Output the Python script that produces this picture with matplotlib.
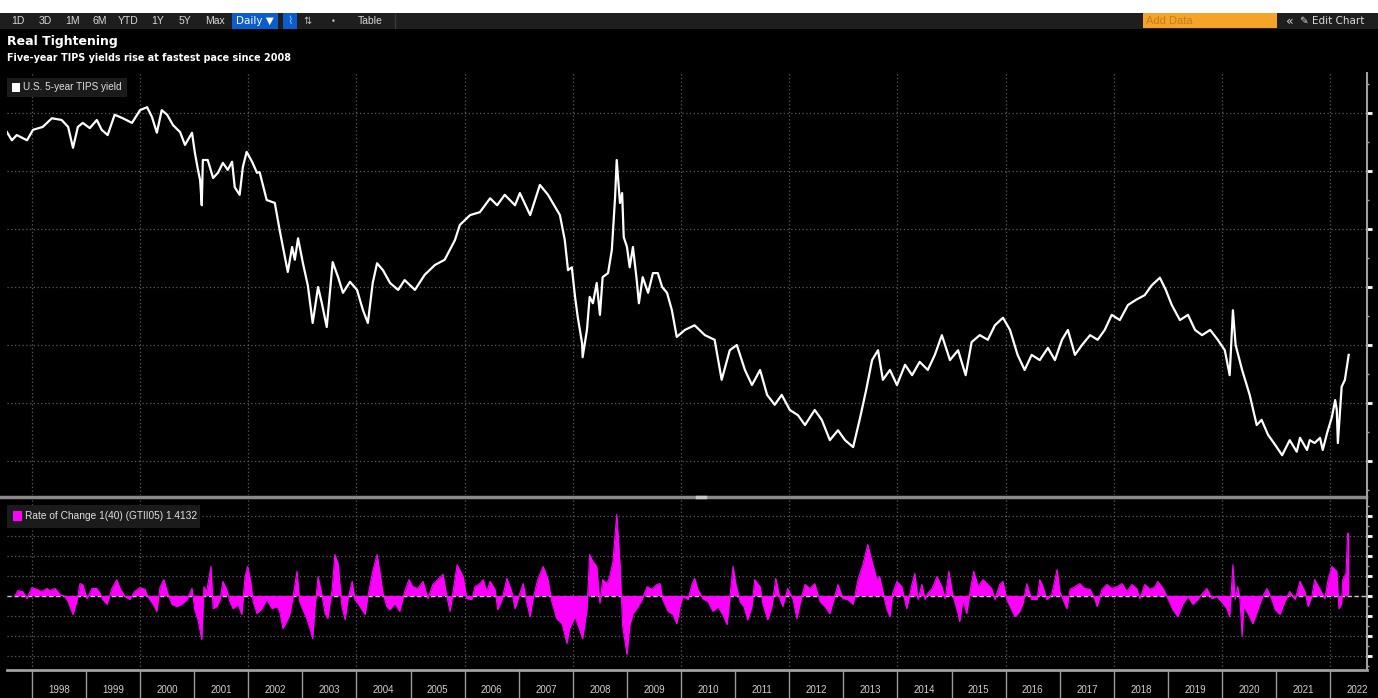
import matplotlib
matplotlib.use("Agg")
import matplotlib.pyplot as plt
from matplotlib.patches import Rectangle
from matplotlib.lines import Line2D
from matplotlib.ticker import MultipleLocator
import numpy as np

W, H = 1378, 698
NARROW = ['Liberation Sans', 'DejaVu Sans']

# U.S. 5-year TIPS yield (%)
tips_years = [1997.54, 1997.63, 1997.72, 1997.91, 1998.02, 1998.20, 1998.37, 1998.55, 1998.67, 1998.76,
              1998.85, 1998.94, 1999.07, 1999.20, 1999.29, 1999.40, 1999.53, 1999.68, 1999.85, 2000.00,
              2000.13, 2000.22, 2000.31, 2000.40, 2000.50, 2000.61, 2000.74, 2000.83, 2000.96, 2001.01,
              2001.07, 2001.11, 2001.14, 2001.16, 2001.25, 2001.35, 2001.44, 2001.53, 2001.62, 2001.70,
              2001.75, 2001.84, 2001.90, 2001.97, 2002.07, 2002.16, 2002.21, 2002.34, 2002.49, 2002.58,
              2002.64, 2002.73, 2002.81, 2002.86, 2002.92, 2003.01, 2003.10, 2003.19, 2003.29, 2003.36,
              2003.45, 2003.56, 2003.66, 2003.75, 2003.88, 2004.01, 2004.12, 2004.21, 2004.30, 2004.38,
              2004.49, 2004.62, 2004.77, 2004.89, 2005.08, 2005.26, 2005.45, 2005.63, 2005.82, 2005.91,
              2006.10, 2006.28, 2006.47, 2006.60, 2006.74, 2006.93, 2007.02, 2007.21, 2007.39, 2007.54,
              2007.76, 2007.85, 2007.91, 2007.98, 2008.04, 2008.09, 2008.17, 2008.18, 2008.26, 2008.31,
              2008.37, 2008.44, 2008.50, 2008.55, 2008.65, 2008.72, 2008.78, 2008.81, 2008.87, 2008.91,
              2008.94, 2009.00, 2009.05, 2009.11, 2009.18, 2009.22, 2009.29, 2009.39, 2009.48, 2009.57,
              2009.65, 2009.74, 2009.83, 2009.92, 2010.07, 2010.25, 2010.44, 2010.62, 2010.75, 2010.90,
              2011.03, 2011.18, 2011.31, 2011.46, 2011.59, 2011.73, 2011.86, 2012.01, 2012.16, 2012.29,
              2012.47, 2012.60, 2012.75, 2012.90, 2013.03, 2013.18, 2013.30, 2013.42, 2013.53, 2013.64,
              2013.73, 2013.86, 2013.99, 2014.14, 2014.27, 2014.41, 2014.56, 2014.69, 2014.82, 2014.97,
              2015.12, 2015.26, 2015.37, 2015.52, 2015.67, 2015.80, 2015.95, 2016.08, 2016.22, 2016.35,
              2016.48, 2016.63, 2016.78, 2016.91, 2017.04, 2017.15, 2017.28, 2017.41, 2017.56, 2017.70,
              2017.83, 2017.96, 2018.11, 2018.26, 2018.41, 2018.57, 2018.70, 2018.85, 2018.96, 2019.07,
              2019.22, 2019.37, 2019.50, 2019.63, 2019.78, 2019.92, 2020.05, 2020.14, 2020.20, 2020.25,
              2020.37, 2020.51, 2020.64, 2020.73, 2020.85, 2020.98, 2021.11, 2021.25, 2021.38, 2021.44,
              2021.57, 2021.62, 2021.71, 2021.81, 2021.86, 2021.94, 2022.03, 2022.09, 2022.12, 2022.14,
              2022.21, 2022.27, 2022.34]
tips_vals = [3.67, 3.53, 3.62, 3.53, 3.71, 3.76, 3.91, 3.88, 3.76, 3.40,
             3.76, 3.83, 3.74, 3.88, 3.71, 3.62, 3.97, 3.91, 3.83, 4.05,
             4.10, 3.93, 3.66, 4.05, 3.97, 3.79, 3.67, 3.45, 3.66, 3.33,
             3.02, 2.84, 2.41, 3.19, 3.19, 2.88, 2.97, 3.14, 3.02, 3.16,
             2.72, 2.59, 3.07, 3.33, 3.16, 2.97, 2.98, 2.50, 2.45, 1.98,
             1.69, 1.26, 1.69, 1.47, 1.84, 1.41, 1.03, 0.38, 1.00, 0.72,
             0.31, 1.43, 1.17, 0.90, 1.09, 0.95, 0.60, 0.38, 1.07, 1.41,
             1.29, 1.07, 0.95, 1.12, 0.95, 1.21, 1.38, 1.47, 1.81, 2.07,
             2.24, 2.29, 2.53, 2.41, 2.59, 2.41, 2.62, 2.24, 2.76, 2.59,
             2.24, 1.81, 1.29, 1.34, 0.83, 0.48, 0.03, -0.21, 0.26, 0.83,
             0.72, 1.07, 0.52, 1.17, 1.24, 1.64, 2.55, 3.19, 2.45, 2.62,
             1.86, 1.69, 1.34, 1.69, 1.12, 0.72, 1.17, 0.90, 1.24, 1.24,
             1.00, 0.90, 0.60, 0.14, 0.26, 0.34, 0.17, 0.09, -0.60, -0.09,
             0.00, -0.43, -0.69, -0.43, -0.86, -1.03, -0.86, -1.12, -1.21, -1.38,
             -1.12, -1.29, -1.64, -1.47, -1.64, -1.76, -1.29, -0.78, -0.26, -0.09,
             -0.60, -0.43, -0.69, -0.34, -0.52, -0.29, -0.43, -0.17, 0.17, -0.26,
             -0.09, -0.52, 0.05, 0.17, 0.09, 0.34, 0.47, 0.26, -0.17, -0.43,
             -0.17, -0.26, -0.05, -0.26, 0.09, 0.26, -0.17, 0.00, 0.17, 0.09,
             0.26, 0.52, 0.43, 0.69, 0.78, 0.86, 1.03, 1.16, 0.95, 0.69,
             0.43, 0.52, 0.26, 0.17, 0.26, 0.09, -0.09, -0.52, 0.60, 0.00,
             -0.43, -0.86, -1.38, -1.29, -1.55, -1.72, -1.90, -1.64, -1.84, -1.60,
             -1.81, -1.64, -1.69, -1.60, -1.81, -1.52, -1.24, -0.95, -1.12, -1.69,
             -0.72, -0.60, -0.17]

# Rate of Change 1(40) (GTII05)
roc_years = [1997.69, 1997.74, 1997.83, 1997.91, 1998.00, 1998.09, 1998.18, 1998.28, 1998.33, 1998.43,
             1998.52, 1998.61, 1998.67, 1998.76, 1998.83, 1998.89, 1998.94, 1999.02, 1999.11, 1999.20,
             1999.26, 1999.31, 1999.39, 1999.48, 1999.57, 1999.63, 1999.72, 1999.81, 1999.90, 2000.00,
             2000.09, 2000.14, 2000.24, 2000.31, 2000.37, 2000.44, 2000.51, 2000.59, 2000.68, 2000.77,
             2000.87, 2000.96, 2001.01, 2001.07, 2001.14, 2001.18, 2001.23, 2001.31, 2001.35, 2001.42,
             2001.48, 2001.53, 2001.60, 2001.66, 2001.72, 2001.81, 2001.88, 2001.94, 2001.99, 2002.05,
             2002.09, 2002.16, 2002.25, 2002.34, 2002.44, 2002.53, 2002.58, 2002.64, 2002.71, 2002.77,
             2002.82, 2002.90, 2002.95, 2003.01, 2003.08, 2003.14, 2003.19, 2003.23, 2003.29, 2003.36,
             2003.42, 2003.47, 2003.55, 2003.60, 2003.66, 2003.73, 2003.79, 2003.84, 2003.92, 2003.97,
             2004.03, 2004.10, 2004.16, 2004.21, 2004.30, 2004.38, 2004.43, 2004.49, 2004.56, 2004.62,
             2004.71, 2004.80, 2004.89, 2004.97, 2005.04, 2005.13, 2005.23, 2005.32, 2005.41, 2005.50,
             2005.60, 2005.67, 2005.73, 2005.78, 2005.86, 2005.97, 2006.04, 2006.13, 2006.19, 2006.28,
             2006.34, 2006.41, 2006.47, 2006.56, 2006.61, 2006.69, 2006.78, 2006.87, 2006.93, 2007.02,
             2007.08, 2007.15, 2007.21, 2007.26, 2007.35, 2007.45, 2007.54, 2007.61, 2007.70, 2007.80,
             2007.89, 2007.94, 2008.04, 2008.09, 2008.18, 2008.26, 2008.31, 2008.37, 2008.44, 2008.50,
             2008.55, 2008.63, 2008.68, 2008.74, 2008.81, 2008.87, 2008.92, 2009.00, 2009.05, 2009.11,
             2009.18, 2009.28, 2009.37, 2009.46, 2009.55, 2009.61, 2009.66, 2009.76, 2009.85, 2009.92,
             2009.98, 2010.03, 2010.13, 2010.20, 2010.25, 2010.31, 2010.40, 2010.50, 2010.59, 2010.68,
             2010.77, 2010.85, 2010.90, 2010.96, 2011.01, 2011.09, 2011.16, 2011.23, 2011.31, 2011.36,
             2011.46, 2011.51, 2011.60, 2011.68, 2011.75, 2011.83, 2011.88, 2011.97, 2012.07, 2012.14,
             2012.23, 2012.29, 2012.38, 2012.47, 2012.57, 2012.66, 2012.75, 2012.84, 2012.90, 2012.99,
             2013.08, 2013.18, 2013.27, 2013.36, 2013.45, 2013.53, 2013.62, 2013.67, 2013.73, 2013.80,
             2013.86, 2013.91, 2013.99, 2014.08, 2014.17, 2014.27, 2014.32, 2014.38, 2014.45, 2014.51,
             2014.56, 2014.64, 2014.73, 2014.82, 2014.88, 2014.95, 2015.02, 2015.12, 2015.15, 2015.21,
             2015.28, 2015.34, 2015.41, 2015.49, 2015.58, 2015.67, 2015.74, 2015.80, 2015.89, 2015.95,
             2016.02, 2016.11, 2016.17, 2016.26, 2016.32, 2016.39, 2016.48, 2016.58, 2016.63, 2016.69,
             2016.76, 2016.85, 2016.95, 2017.00, 2017.06, 2017.13, 2017.19, 2017.28, 2017.37, 2017.46,
             2017.56, 2017.65, 2017.69, 2017.78, 2017.87, 2017.96, 2018.06, 2018.15, 2018.24, 2018.33,
             2018.42, 2018.48, 2018.57, 2018.67, 2018.76, 2018.81, 2018.91, 2018.98, 2019.04, 2019.09,
             2019.18, 2019.27, 2019.37, 2019.46, 2019.55, 2019.64, 2019.72, 2019.81, 2019.90, 2019.99,
             2020.09, 2020.14, 2020.20, 2020.24, 2020.29, 2020.33, 2020.37, 2020.40, 2020.48, 2020.57,
             2020.66, 2020.75, 2020.83, 2020.92, 2020.98, 2021.07, 2021.16, 2021.25, 2021.35, 2021.44,
             2021.53, 2021.59, 2021.66, 2021.71, 2021.81, 2021.90, 2021.96, 2022.03, 2022.12, 2022.16,
             2022.21, 2022.23, 2022.29, 2022.32, 2022.34]
roc_vals = [0.00, 0.11, 0.09, -0.07, 0.18, 0.14, 0.09, 0.16, 0.11, 0.16,
            0.02, -0.02, -0.14, -0.43, -0.14, 0.27, 0.25, -0.07, 0.16, 0.16,
            0.05, -0.09, -0.20, 0.16, 0.36, 0.16, -0.02, -0.09, 0.09, 0.18,
            0.14, -0.02, -0.20, -0.36, 0.20, 0.36, 0.05, -0.20, -0.25, -0.20,
            -0.09, 0.16, -0.32, -0.55, -1.00, 0.20, 0.09, 0.66, -0.30, -0.25,
            -0.09, 0.32, 0.14, -0.14, -0.30, -0.20, -0.43, 0.43, 0.66, 0.27,
            -0.14, -0.41, -0.30, -0.09, -0.30, -0.25, -0.36, -0.75, -0.59, -0.41,
            -0.09, 0.55, -0.14, -0.32, -0.52, -0.75, -0.98, -0.32, 0.43, 0.02,
            -0.41, -0.52, 0.14, 0.93, 0.73, -0.25, -0.55, -0.09, 0.32, -0.09,
            -0.18, -0.32, -0.43, -0.02, 0.55, 0.93, 0.55, 0.05, -0.25, -0.32,
            -0.18, -0.36, 0.09, 0.36, 0.20, 0.16, 0.32, -0.07, 0.25, 0.36,
            0.48, -0.02, -0.36, 0.05, 0.70, 0.43, -0.07, -0.09, 0.20, 0.27,
            0.36, 0.09, 0.32, 0.14, -0.32, -0.09, 0.39, 0.09, -0.30, 0.05,
            0.27, -0.18, -0.48, -0.09, 0.36, 0.66, 0.36, -0.14, -0.52, -0.64,
            -1.09, -0.75, -0.48, -0.66, -0.98, -0.32, 0.93, 0.77, 0.66, -0.18,
            0.36, 0.27, 0.43, 0.77, 1.84, 0.73, -0.70, -1.34, -0.70, -0.41,
            -0.30, -0.09, 0.20, 0.14, 0.25, 0.27, -0.09, -0.36, -0.43, -0.64,
            -0.25, -0.02, -0.09, 0.25, 0.39, 0.14, -0.07, -0.14, -0.36, -0.25,
            -0.43, -0.66, -0.07, 0.66, 0.27, -0.14, -0.25, -0.55, -0.25, 0.36,
            0.20, -0.18, -0.55, -0.25, 0.39, -0.09, -0.25, 0.16, -0.09, -0.52,
            -0.02, 0.25, 0.16, 0.27, -0.14, -0.25, -0.41, -0.02, 0.25, -0.07,
            -0.09, -0.20, 0.36, 0.70, 1.16, 0.77, 0.36, 0.43, 0.09, -0.30,
            -0.48, 0.05, 0.32, 0.20, -0.30, 0.27, 0.50, -0.09, 0.25, -0.09,
            0.05, 0.16, 0.43, 0.20, -0.07, 0.55, 0.02, -0.41, -0.59, -0.09,
            -0.41, 0.09, 0.55, 0.20, 0.36, 0.25, 0.16, -0.09, 0.25, 0.32,
            -0.09, -0.32, -0.48, -0.36, -0.18, 0.27, -0.09, -0.09, 0.36, 0.20,
            -0.09, 0.02, 0.59, 0.09, -0.09, -0.30, 0.14, 0.20, 0.27, 0.16,
            0.14, -0.09, -0.25, 0.14, 0.25, 0.16, 0.20, 0.27, 0.09, 0.25,
            0.16, -0.07, 0.25, 0.14, 0.20, 0.32, 0.16, -0.02, -0.18, -0.32,
            -0.48, -0.20, -0.02, -0.20, -0.09, 0.05, 0.16, -0.07, -0.02, -0.14,
            -0.30, -0.48, 0.70, -0.09, 0.20, -0.09, -0.93, -0.25, -0.41, -0.64,
            -0.32, -0.02, 0.16, -0.09, -0.32, -0.43, -0.14, 0.09, -0.09, 0.32,
            0.09, -0.25, -0.02, 0.36, 0.14, -0.07, 0.36, 0.66, 0.55, -0.30,
            -0.18, 0.36, 0.50, 1.41, 1.4132]
roc_last = 1.4132

years = list(range(1998, 2023))
toolbar_items = ['1D', '3D', '1M', '6M', 'YTD', '1Y', '5Y', 'Max']

fig = plt.figure(figsize=(W / 100, H / 100), dpi=100, facecolor='black')


def frect(x0, y0, x1, y1, **kw):
    fig.patches.append(Rectangle((x0 / W, 1 - y1 / H), (x1 - x0) / W, (y1 - y0) / H,
                                 transform=fig.transFigure, **kw))


def ftext(x, y, s, **kw):
    fig.text(x / W, 1 - y / H, s, **kw)


def fline(xs, ys, **kw):
    fig.lines.append(Line2D([x / W for x in xs], [1 - y / H for y in ys],
                            transform=fig.transFigure, **kw))


# ---- toolbar ----
frect(0, 0, W, 13, facecolor='white', edgecolor='none')
frect(0, 13, W, 29, facecolor='#1e1e1e', edgecolor='none')
tb_x = [18, 45, 73, 100, 128, 158, 185, 215]
for s, x in zip(toolbar_items, tb_x):
    ftext(x, 21, s, color='#d8d8d8', fontsize=7.5, family=NARROW, ha='center', va='center')
frect(232, 13, 278, 29, facecolor='#0b5ccc', edgecolor='none')
ftext(255, 21, 'Daily ▼', color='white', fontsize=7.5, family=['DejaVu Sans'], ha='center', va='center')
frect(283, 13, 297, 29, facecolor='#0b5ccc', edgecolor='none')
ftext(290, 21, '⌇', color='#9fc3ff', fontsize=8, ha='center', va='center')
ftext(308, 21, '⇅', color='#bbbbbb', fontsize=7, ha='center', va='center')
ftext(333, 21, '•', color='#bbbbbb', fontsize=6, ha='center', va='center')
ftext(370, 21, 'Table', color='#d8d8d8', fontsize=7.5, family=NARROW, ha='center', va='center')
fline([395, 395], [14, 28], color='#3a3a3a', lw=1)
frect(1143, 13, 1277, 28, facecolor='#f6a429', edgecolor='none')
ftext(1146, 21, 'Add Data', color='#c47d1a', fontsize=8, family=NARROW, ha='left', va='center')
ftext(1290, 21, '«', color='#d8d8d8', fontsize=9, ha='center', va='center')
ftext(1300, 21, '✎ Edit Chart', color='#d8d8d8', fontsize=7.5, family=['DejaVu Sans'],
      ha='left', va='center')

# ---- titles ----
ftext(7, 42, 'Real Tightening', color='white', fontsize=9, fontweight='bold', ha='left', va='center')
ftext(7, 58, 'Five-year TIPS yields rise at fastest pace since 2008', color='white',
      fontsize=6.9, fontweight='bold', ha='left', va='center')

# ---- axes ----
xlim = (1997.54, 2022.66)
ax1 = fig.add_axes([7 / W, 1 - 495 / H, 1359 / W, 422 / H])
ax2 = fig.add_axes([7 / W, 1 - 670 / H, 1359 / W, 172 / H])
ax3 = fig.add_axes([7 / W, 0, 1359 / W, 28 / H])

for ax in (ax1, ax2, ax3):
    ax.set_facecolor('black')
    ax.set_xlim(*xlim)
    for sp in ax.spines.values():
        sp.set_visible(False)

grid_kw = dict(color='#5c5c5c', linestyle=(0, (1, 2)), linewidth=0.9)

# top panel: TIPS yield
ax1.plot(tips_years, tips_vals, color='white', lw=1.6, zorder=3)
ax1.set_ylim(-2.586, 4.69)
ax1.yaxis.set_major_locator(MultipleLocator(1.0))
ax1.yaxis.set_minor_locator(MultipleLocator(0.5))

# bottom panel: rate of change
ax2.fill_between(roc_years, 0, roc_vals, color='#ff00ff', lw=0, zorder=3)
ax2.plot(roc_years, roc_vals, color='#ff00ff', lw=0.8, zorder=3)
ax2.axhline(0, color='#c8c8c8', lw=1, linestyle=(0, (3, 2)), zorder=2)
ax2.set_ylim(-1.693, 2.216)
ax2.yaxis.set_major_locator(MultipleLocator(20 / 44))
ax2.yaxis.set_minor_locator(MultipleLocator(10 / 44))

for ax in (ax1, ax2):
    ax.set_xticks(np.arange(1998, 2023, 2))
    ax.grid(True, which='major', **grid_kw)
    ax.yaxis.tick_right()
    ax.tick_params(axis='x', length=0, labelbottom=False)
    ax.tick_params(axis='y', which='major', length=4, width=2, colors='white',
                   labelright=False, labelleft=False, left=False, right=True)
    ax.tick_params(axis='y', which='minor', length=2, width=1, colors='#aaaaaa',
                   left=False, right=True)

# year strip
ax3.set_ylim(0, 1)
ax3.set_xticks([])
ax3.set_yticks([])
for yr in years:
    ax3.axvline(yr, color='#9a9a9a', lw=1)
    ax3.text(yr + 0.5, 0.3, str(yr), color='#d0d0d0', fontsize=7, family=NARROW,
             ha='center', va='center')

# frame lines
fline([0, 1366], [496.5, 496.5], color='#8a8a8a', lw=2.5)
fline([697, 705], [496.5, 496.5], color='#c8c8c8', lw=2.5)
fline([7, 1367], [670, 670], color='#a0a0a0', lw=2)
fline([1366.5, 1366.5], [73, 670], color='#a0a0a0', lw=1.5)

# legends
frect(7, 78, 127, 97, facecolor='#1b1b1b', edgecolor='none')
frect(12, 83, 20, 92, facecolor='white', edgecolor='none')
ftext(23, 87.5, 'U.S. 5-year TIPS yield', color='#e0e0e0', fontsize=7.2, family=NARROW,
      ha='left', va='center')
frect(7, 505, 200, 528, facecolor='#1b1b1b', edgecolor='none')
frect(13, 511, 22, 521, facecolor='#ff00ff', edgecolor='none')
ftext(25, 516, 'Rate of Change 1(40) (GTII05) %.4f' % roc_last, color='#e0e0e0',
      fontsize=7.3, family=NARROW, ha='left', va='center')

fig.savefig('out.png', dpi=100, facecolor='black')
